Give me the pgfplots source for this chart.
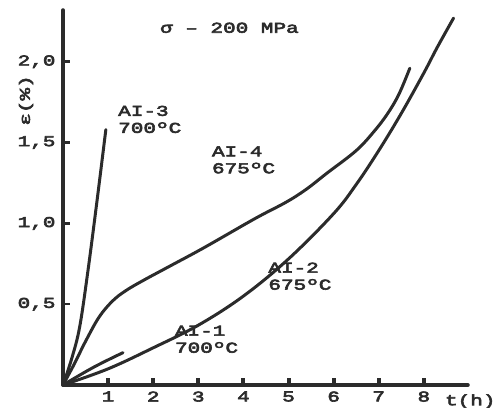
\documentclass[border=0pt]{standalone}
\usepackage{fontspec}
\usepackage{pgfplots}
\pgfplotsset{compat=1.18}
\newfontfamily\tw[FakeStretch=1.4, FakeBold=4]{Liberation Mono}
\definecolor{ink}{HTML}{2B2B2B}
\newcommand{\lbl}{\tw\fontsize{15}{17}\selectfont}

\begin{document}
\begin{tikzpicture}
\useasboundingbox (-63pt,-22pt) rectangle (432pt,385pt);
\begin{axis}[
    scale only axis,
    width=405pt, height=375pt,
    anchor=south west, at={(0,0)},
    xmin=0, xmax=8.98, ymin=0, ymax=2.32,
    axis lines=left,
    axis line style={-, line width=3.5pt, draw=ink, line cap=round},
    clip=false,
    tick align=inside,
    xtick={1,...,8},
    xticklabels={1,2,3,4,5,6,7,8},
    ytick={0.5,1,1.5,2},
    yticklabels={{0,5},{1,0},{1,5},{2,0}},
    x tick style={line width=4pt, draw=ink},
    y tick style={line width=2.5pt, draw=ink},
    major tick length=7pt,
    tick label style={font=\lbl, text=ink},
    xticklabel style={yshift=-3pt},
    yticklabel style={xshift=-4pt},
    every axis plot post/.style={mark=none, draw=ink, line width=3pt, line cap=round, line join=round, smooth, tension=0.6},
]
% AI-3, 700 C
\addplot coordinates {(0,0) (0.2,0.17) (0.37,0.36) (0.55,0.70) (0.75,1.13) (0.95,1.58)};
% AI-1, 700 C
\addplot coordinates {(0,0) (0.68,0.11) (1.33,0.20)};
% AI-4, 675 C
\addplot coordinates {(0,0) (0.25,0.13) (0.5,0.27) (0.8,0.42) (1.1,0.52) (1.4,0.585) (1.8,0.65) (2.4,0.74) (3.13,0.85) (4.26,1.03) (4.94,1.13) (5.39,1.21) (5.85,1.31) (6.5,1.45) (6.9,1.57) (7.2,1.68) (7.45,1.80) (7.69,1.96)};
% AI-2, 675 C
\addplot coordinates {(0,0) (1,0.10) (2,0.23) (3,0.37) (4,0.55) (5,0.78) (6,1.06) (6.5,1.24) (7,1.45) (7.5,1.68) (8,1.93) (8.3,2.09) (8.66,2.27)};

\node[font=\lbl, text=ink] at (axis cs:3.69,2.21) {σ – 200 MPa};
\node[font=\lbl, text=ink, rotate=90] at (axis cs:-0.82,1.76) {ε(\%)};
\node[font=\lbl, text=ink, anchor=base] at (axis cs:9.03,-0.125) {t(h)};
\node[font=\lbl, text=ink, anchor=base west, align=left, inner sep=0pt] at (axis cs:1.22,1.56) {AI-3\\700ºC};
\node[font=\lbl, text=ink, anchor=base west, align=left, inner sep=0pt] at (axis cs:3.30,1.31) {AI-4\\675ºC};
\node[font=\lbl, text=ink, anchor=base west, align=left, inner sep=0pt] at (axis cs:4.55,0.59) {AI-2\\675ºC};
\node[font=\lbl, text=ink, anchor=base west, align=left, inner sep=0pt] at (axis cs:2.48,0.20) {AI-1\\700ºC};
\end{axis}
\end{tikzpicture}
\end{document}
